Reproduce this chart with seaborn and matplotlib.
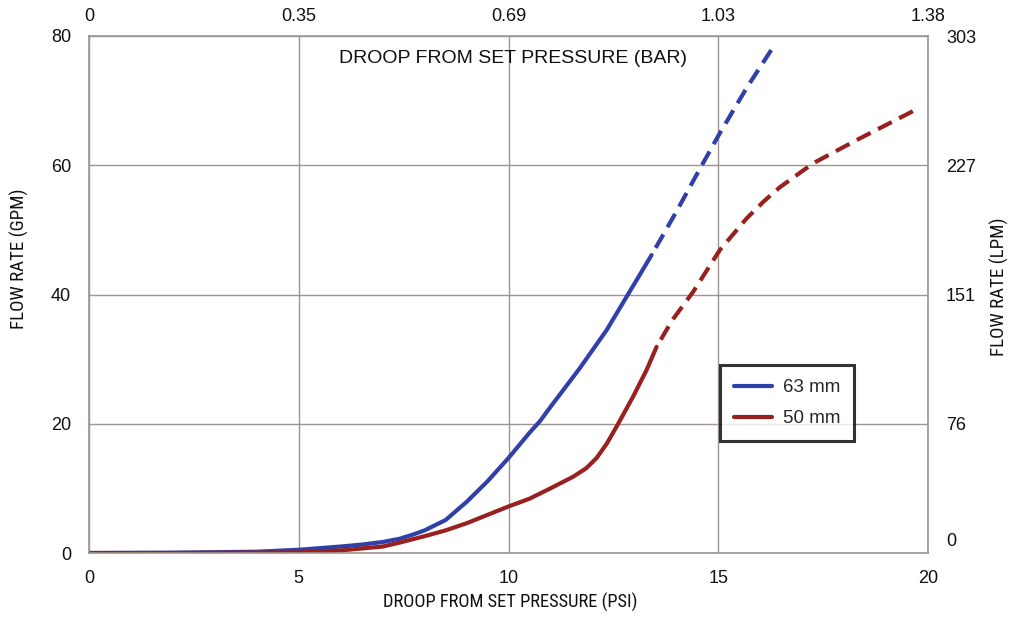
import matplotlib
matplotlib.use("Agg")
import matplotlib.pyplot as plt
from matplotlib.lines import Line2D
from matplotlib.transforms import ScaledTranslation
import seaborn as sns

# droop (psi) vs flow (gpm)
blue_x_solid = [0, 2, 4, 5, 6, 6.5, 7, 7.4, 7.7, 8, 8.5, 9, 9.5, 10, 10.5, 10.75, 11, 11.7, 12.34, 12.82, 13.41]
blue_y_solid = [0, 0.05, 0.2, 0.5, 1.0, 1.3, 1.7, 2.2, 2.8, 3.5, 5.1, 7.9, 11.1, 14.7, 18.6, 20.4, 22.6, 28.6, 34.5, 39.7, 46.1]
blue_x_dash = [13.41, 14.0, 14.49, 15.04, 15.68, 16.3]
blue_y_dash = [46.1, 52.8, 58.6, 65.0, 72.0, 78.2]

red_x_solid = [0, 2, 4, 5, 6, 6.5, 7, 7.4, 7.7, 8, 8.5, 9, 9.5, 10, 10.5, 10.75, 11, 11.54, 11.85,
               12.1, 12.35, 12.58, 12.97, 13.29, 13.53]
red_y_solid = [0, 0, 0.05, 0.1, 0.4, 0.7, 1.0, 1.6, 2.1, 2.6, 3.5, 4.6, 5.9, 7.2, 8.4, 9.2, 10.0, 11.8, 13.1,
               14.7, 17.0, 19.6, 24.2, 28.3, 31.9]
red_x_dash = [13.53, 13.9, 14.4, 15.04, 15.68, 16.1, 16.47, 17.26, 18.3, 19.8]
red_y_dash = [31.9, 36.0, 40.4, 46.9, 51.8, 54.5, 56.6, 60.3, 63.9, 68.9]

psi_ticks = [0, 5, 10, 15, 20]
bar_labels = ["0", "0.35", "0.69", "1.03", "1.38"]
gpm_ticks = [0, 20, 40, 60, 80]
lpm_labels = ["0", "76", "151", "227", "303"]

BLUE = "#3040a8"
RED = "#98201e"
GRID = "#9e9490"
INK = "#111111"

sns.set_style("white")
plt.rcParams["font.family"] = ["Liberation Sans", "DejaVu Sans"]
narrow = ["Liberation Sans Narrow", "Roboto Condensed", "Liberation Sans", "DejaVu Sans"]

fig = plt.figure(figsize=(10.13, 6.17), dpi=100)
ax = fig.add_axes([89 / 1013, 1 - 553 / 617, 839 / 1013, 517 / 617])

lw = 3.0
dash = (3.7, (3.7, 2.0))
sns.lineplot(x=blue_x_solid, y=blue_y_solid, ax=ax, color=BLUE, lw=lw, sort=False)
sns.lineplot(x=blue_x_dash, y=blue_y_dash, ax=ax, color=BLUE, lw=lw, sort=False, linestyle=dash)
sns.lineplot(x=red_x_solid, y=red_y_solid, ax=ax, color=RED, lw=lw, sort=False)
sns.lineplot(x=red_x_dash, y=red_y_dash, ax=ax, color=RED, lw=lw, sort=False, linestyle=dash)

ax.set_xlim(0, 20)
ax.set_ylim(0, 80)
ax.set_xticks(psi_ticks)
ax.set_yticks(gpm_ticks)
ax.grid(True, color=GRID, lw=1.0)
for s in ax.spines.values():
    s.set_color(GRID)
    s.set_linewidth(1.2)
ax.tick_params(length=0, labelsize=13, pad=12, labelcolor=INK)
ax.tick_params(axis="y", pad=13)
ax.set_xlabel("")
ax.set_ylabel("")

top = ax.secondary_xaxis("top")
top.set_xticks(psi_ticks, bar_labels)
top.tick_params(length=0, labelsize=13, pad=8, labelcolor=INK)
top.spines["top"].set_visible(False)

right = ax.secondary_yaxis("right")
right.set_yticks(gpm_ticks, lpm_labels)
right.tick_params(length=0, labelsize=13, pad=13, labelcolor=INK)
right.spines["right"].set_visible(False)
# the right-hand "0" sits a little above the baseline in the original
zero_lbl = right.get_yticklabels()[0]
zero_lbl.set_transform(zero_lbl.get_transform() + ScaledTranslation(0, 0.14, fig.dpi_scale_trans))

ax.text(0.505, 0.957, "DROOP FROM SET PRESSURE (BAR)", transform=ax.transAxes,
        ha="center", va="center", fontsize=14, color=INK)

fig.text(510 / 1013, 1 - 602 / 617, "DROOP FROM SET PRESSURE (PSI)", ha="center", va="center",
         fontsize=13.3, family=narrow, color=INK)
fig.text(19 / 1013, 1 - 259 / 617, "FLOW RATE (GPM)", ha="center", va="center",
         rotation=90, fontsize=13.6, family=narrow, color=INK)
fig.text(999 / 1013, 1 - 287 / 617, "FLOW RATE (LPM)", ha="center", va="center",
         rotation=90, fontsize=13.6, family=narrow, color=INK)

handles = [Line2D([], [], color=BLUE, lw=lw), Line2D([], [], color=RED, lw=lw)]
leg = ax.legend(handles, ["63 mm", "50 mm"], loc="upper left",
                bbox_to_anchor=((720 - 89) / 839, (553 - 365) / 517),
                fontsize=13.5, frameon=True, fancybox=False, handlelength=2.0,
                borderpad=0.75, labelspacing=0.75, handletextpad=0.6, borderaxespad=0)
leg.get_frame().set_edgecolor("black")
leg.get_frame().set_linewidth(2.2)

fig.savefig("out.png", dpi=100, facecolor="white")
